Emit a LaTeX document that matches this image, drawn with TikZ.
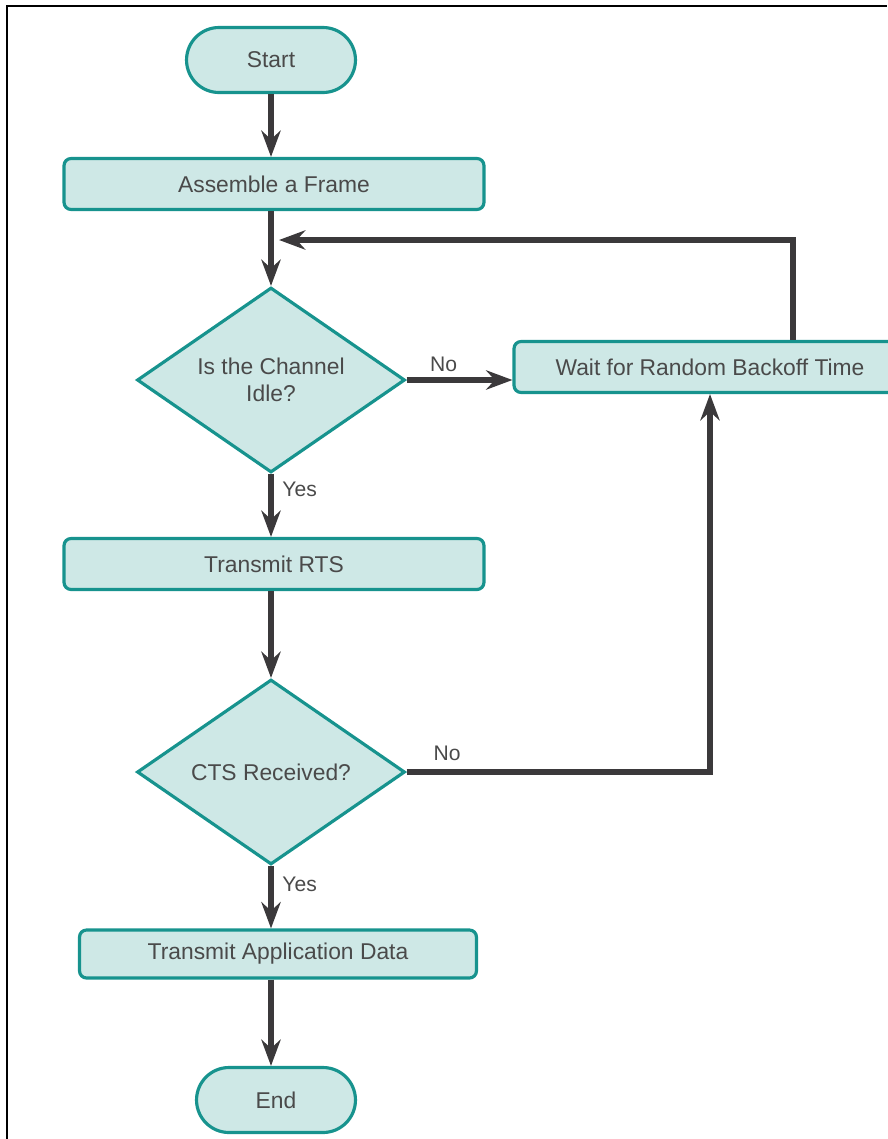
\documentclass[tikz,border=0pt]{standalone}
\usepackage{fontspec}
\setmainfont{Liberation Sans}
\usetikzlibrary{arrows.meta,shapes.geometric,shapes.misc,calc}
\definecolor{boxfill}{HTML}{CEE8E6}
\definecolor{boxline}{HTML}{17938E}
\definecolor{flow}{HTML}{3B393B}
\definecolor{ink}{HTML}{4A4A4A}
\begin{document}
\begin{tikzpicture}[x=0.02cm,y=-0.02cm,
  base/.style={fill=boxfill,draw=boxline,line width=1.8pt,text=ink,
    font=\fontsize{13}{15.5}\selectfont,inner sep=2pt},
  terminal/.style={base,rounded rectangle,minimum width=3.52cm,minimum height=1.3cm},
  process/.style={base,rectangle,rounded corners=4pt,minimum height=1.02cm},
  decision/.style={base,diamond,shape aspect=1.45,minimum width=5.36cm,
    minimum height=3.7cm,align=center},
  flowline/.style={draw=flow,line width=3pt,-{Stealth[length=15pt,width=11pt,inset=5pt]}},
  lbl/.style={text=ink,font=\fontsize{12}{14}\selectfont,inner sep=1pt}]
\useasboundingbox (0,0) rectangle (887,1139);
% frame
\draw[line width=1.2pt] (7,1139) -- (7,6) -- (887,6);

% nodes
\node[terminal] (start) at (271,60) {Start};
\node[process,minimum width=8.4cm] (assemble) at (274,184) {Assemble a Frame};
\node[decision] (idle) at (271,380) {Is the Channel\\Idle?};
\node[process,minimum width=7.84cm] (wait) at (710,367) {Wait for Random Backoff Time};
\node[process,minimum width=8.4cm] (rts) at (274,564) {Transmit RTS};
\node[decision] (cts) at (271,772) {CTS Received?};
\node[process,minimum width=7.94cm,minimum height=0.96cm] (data) at (278,954) {Transmit Application Data};
\node[terminal,minimum width=3.32cm] (end) at (276,1100) {End};
\coordinate (rejoin) at (279,240);

% connectors
\draw[flowline] (start.south) -- (start.south |- assemble.north);
\draw[flowline] (idle.north |- assemble.south) -- (idle.north);
\draw[flowline] (idle.east) -- node[lbl,above,pos=0.35,yshift=2pt]{No} (idle.east -| wait.west);
\draw[flowline] ($(wait.north)+(83,0)$) |- (rejoin);
\draw[flowline] (idle.south) -- node[lbl,right,pos=0.24,xshift=4pt]{Yes} (idle.south |- rts.north);
\draw[flowline] (idle.south |- rts.south) -- (cts.north);
\draw[flowline] (cts.east) -| node[lbl,above,pos=0.067,yshift=4pt]{No} (wait.south);
\draw[flowline] (cts.south) -- node[lbl,right,pos=0.29,xshift=4pt]{Yes} (cts.south |- data.north);
\draw[flowline] (cts.south |- data.south) -- (cts.south |- end.north);
\end{tikzpicture}
\end{document}
